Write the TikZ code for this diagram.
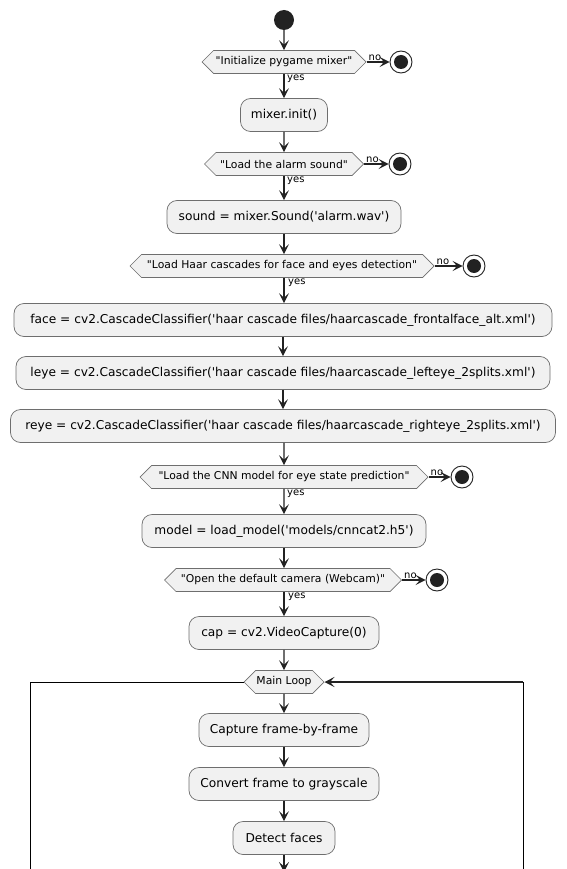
\documentclass[tikz,border=0pt]{standalone}
\usepackage{fontspec}
\setmainfont{DejaVu Sans}[Ligatures=TeXOff]
\usetikzlibrary{shapes.symbols,arrows.meta}
\definecolor{boxfill}{HTML}{F1F1F1}
\definecolor{boxline}{HTML}{6E6E6E}
\definecolor{ink}{HTML}{222222}
\tikzset{
  actbox/.style={rectangle, rounded corners=10pt, draw=boxline, line width=0.7pt, fill=boxfill,
    minimum height=33pt, inner sep=0pt, font=\fontsize{12.2}{14}\selectfont},
  decbox/.style={signal, signal to=west and east, draw=boxline, line width=0.7pt, fill=boxfill,
    minimum height=23pt, inner sep=0pt, font=\fontsize{10.8}{12}\selectfont},
  startdot/.style={circle, fill=ink, minimum size=20pt, inner sep=0pt},
  enddot/.style={circle, draw=ink, line width=0.9pt, fill=white, minimum size=22pt, inner sep=0pt,
    path picture={\fill[ink] (path picture bounding box.center) circle (7pt);}},
  flow/.style={draw=ink, line width=1.1pt, -{Stealth[length=10pt,width=10pt,inset=4.5pt]}},
  lbl/.style={font=\fontsize{10}{11}\selectfont, inner sep=1pt},
}
\begin{document}
\begin{tikzpicture}[x=1pt,y=-1pt]
\useasboundingbox (0,0) rectangle (566,869);
\node[startdot] (start) at (284,20) {};
\node[decbox, minimum width=164pt] (d1) at (284,62) {"Initialize pygame mixer"};
\node[enddot] (e1) at (401,62) {};
\node[actbox, minimum width=87pt] (b1) at (284,115) {mixer.init()};
\node[decbox, minimum width=159pt] (d2) at (284,164) {"Load the alarm sound"};
\node[enddot] (e2) at (400,164) {};
\node[actbox, minimum width=234pt] (b2) at (284,217) {sound = mixer.Sound('alarm.wav')};
\node[decbox, minimum width=304pt] (d3) at (282,266) {"Load Haar cascades for face and eyes detection"};
\node[enddot] (e3) at (474,266) {};
\node[actbox, minimum width=538pt] (b3) at (283,320) {face = cv2.CascadeClassifier('haar cascade files/haarcascade\_frontalface\_alt.xml')};
\node[actbox, minimum width=534pt] (b4) at (283,373) {leye = cv2.CascadeClassifier('haar cascade files/haarcascade\_lefteye\_2splits.xml')};
\node[actbox, minimum width=545pt] (b5) at (283,426) {reye = cv2.CascadeClassifier('haar cascade files/haarcascade\_righteye\_2splits.xml')};
\node[decbox, minimum width=288pt] (d4) at (284,477) {"Load the CNN model for eye state prediction"};
\node[enddot] (e4) at (462,477) {};
\node[actbox, minimum width=284pt] (b6) at (284,531) {model = load\_model('models/cnncat2.h5')};
\node[decbox, minimum width=237pt] (d5) at (283,580) {"Open the default camera (Webcam)"};
\node[enddot] (e5) at (437,580) {};
\node[actbox, minimum width=190pt] (b7) at (284,633) {cap = cv2.VideoCapture(0)};
\node[decbox, minimum width=80pt] (loop) at (284,682) {Main Loop};
\node[actbox, minimum width=170pt] (b8) at (284,730) {Capture frame-by-frame};
\node[actbox, minimum width=190pt] (b9) at (284,784) {Convert frame to grayscale};
\node[actbox, minimum width=102pt] (b10) at (284,838) {Detect faces};
\coordinate (bend) at (284,872);
\coordinate (lefttop) at (30,682);
\coordinate (leftbot) at (30,872);
\coordinate (righttop) at (523,682);
\coordinate (rightbot) at (523,872);

\draw[flow] (start) -- (d1);
\draw[flow] (d1.east) -- (e1);
\node[lbl, anchor=south west] at ([xshift=1pt]d1.east) {no};
\draw[flow] (d1.south -| b1) -- (b1);
\node[lbl, anchor=north west] at ([xshift=2pt]d1.south) {yes};
\draw[flow] (b1) -- (d2);
\draw[flow] (d2.east) -- (e2);
\node[lbl, anchor=south west] at ([xshift=1pt]d2.east) {no};
\draw[flow] (d2.south) -- (b2);
\node[lbl, anchor=north west] at ([xshift=2pt]d2.south) {yes};
\draw[flow] (b2.south) -- (b2.south |- d3.north);
\draw[flow] (d3.east) -- (e3);
\node[lbl, anchor=south west] at ([xshift=1pt]d3.east) {no};
\draw[flow] (b2.south |- d3.south) -- (b2.south |- b3.north);
\node[lbl, anchor=north west] at ([xshift=3pt]b2.south |- d3.south) {yes};
\draw[flow] (b3) -- (b4);
\draw[flow] (b4) -- (b5);
\draw[flow] (b5.south -| d4) -- (d4);
\draw[flow] (d4.east) -- (e4);
\node[lbl, anchor=south west] at ([xshift=1pt]d4.east) {no};
\draw[flow] (d4) -- (b6);
\node[lbl, anchor=north west] at ([xshift=2pt]d4.south) {yes};
\draw[flow] (b6.south -| b7) -- (b7.south |- d5.north);
\draw[flow] (d5.east) -- (e5);
\node[lbl, anchor=south west] at ([xshift=1pt]d5.east) {no};
\draw[flow] (b7.north |- d5.south) -- (b7);
\node[lbl, anchor=north west] at ([xshift=3pt]b7.north |- d5.south) {yes};
\draw[flow] (b7) -- (loop);
\draw[flow] (loop) -- (b8);
\draw[flow] (b8) -- (b9);
\draw[flow] (b9) -- (b10);
\draw[flow] (b10) -- (bend);
\draw[line width=1pt, black] (loop.west) -- (lefttop) -- (leftbot);
\draw[line width=1pt, black] (rightbot) -- (righttop);
\draw[flow] (righttop) -- (loop.east);
\end{tikzpicture}
\end{document}
